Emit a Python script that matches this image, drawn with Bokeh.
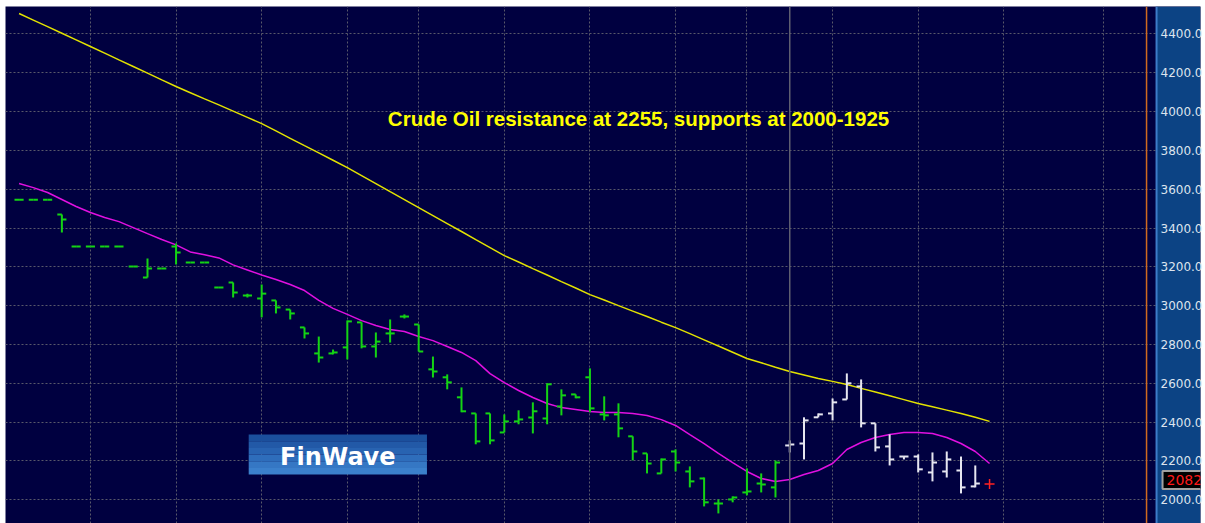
from bokeh.plotting import figure
from bokeh.models import (ColumnDataSource, Range1d, FixedTicker, Span, Label,
                          BoxAnnotation, PrintfTickFormatter)
from bokeh.transform import dodge
from bokeh.embed import file_html
from bokeh.resources import INLINE

# ---------------- data ----------------
bar_open = [3545, 3545, 3545, 3469, 3305, 3305, 3305, 3305, 3202, 3145,
            3192, 3305, 3222, 3222, 3094, 3119, 3052, 3037, 3027, 2980,
            2888, 2754, 2754, 2785, 2914, 2790, 2857, 2944, 2903, 2672,
            2631, 2528, 2445, 2445, 2347, 2404, 2424, 2419, 2481, 2543,
            2631, 2440, 2440, 2327, 2239, 2136, 2249, 2146, 2110, 1981,
            2002, 2038, 2084, 2064, 2280, 2290, 2425, 2445, 2517, 2584,
            2394, 2275, 2223, 2223, 2141, 2146, 2151, 2069]
bar_high = [3545, 3545, 3545, 3469, 3305, 3305, 3305, 3305, 3202, 3243,
            3192, 3320, 3222, 3222, 3094, 3119, 3062, 3109, 3027, 2980,
            2888, 2841, 2774, 2924, 2914, 2862, 2929, 2955, 2903, 2738,
            2646, 2579, 2445, 2445, 2440, 2461, 2502, 2600, 2569, 2543,
            2677, 2533, 2497, 2327, 2239, 2213, 2260, 2172, 2115, 2002,
            2018, 2162, 2136, 2203, 2306, 2425, 2445, 2522, 2651, 2620,
            2394, 2337, 2223, 2234, 2244, 2249, 2223, 2177]
bar_low = [3545, 3545, 3545, 3377, 3305, 3305, 3305, 3305, 3202, 3145,
           3192, 3212, 3222, 3222, 3094, 3042, 3042, 2940, 2960, 2929,
           2831, 2707, 2749, 2723, 2780, 2733, 2810, 2934, 2764, 2630,
           2569, 2451, 2286, 2286, 2347, 2389, 2342, 2389, 2435, 2523,
           2451, 2409, 2322, 2203, 2136, 2136, 2146, 2064, 1966, 1930,
           1987, 2023, 2038, 2012, 2244, 2208, 2425, 2409, 2517, 2373,
           2249, 2177, 2208, 2141, 2095, 2115, 2033, 2064]
bar_close = [3545, 3545, 3545, 3444, 3305, 3305, 3305, 3305, 3202, 3192,
             3192, 3274, 3222, 3222, 3094, 3068, 3052, 3062, 2991, 2960,
             2857, 2733, 2759, 2919, 2790, 2815, 2857, 2944, 2764, 2661,
             2605, 2456, 2301, 2306, 2404, 2414, 2456, 2595, 2538, 2528,
             2471, 2435, 2368, 2249, 2187, 2208, 2192, 2095, 1987, 1981,
             2012, 2043, 2079, 2192, 2285, 2409, 2440, 2502, 2600, 2394,
             2270, 2208, 2223, 2157, 2192, 2208, 2064, 2084]

ma_slow = [4505, 4471, 4437, 4403, 4369, 4335, 4301, 4266, 4232, 4198,
           4163, 4129, 4097, 4065, 4034, 4002, 3970, 3938, 3900, 3862,
           3824, 3787, 3749, 3711, 3670, 3629, 3587, 3546, 3505, 3464,
           3423, 3382, 3340, 3299, 3258, 3225, 3191, 3158, 3124, 3091,
           3057, 3029, 3000, 2972, 2944, 2915, 2887, 2856, 2824, 2792,
           2760, 2728, 2706, 2683, 2661, 2643, 2625, 2610, 2594, 2574,
           2555, 2536, 2516, 2496, 2479, 2462, 2445, 2425, 2404]
ma_fast = [3629, 3608, 3583, 3547, 3511, 3480, 3454, 3433, 3402, 3371,
           3341, 3313, 3277, 3262, 3246, 3210, 3184, 3158, 3135, 3109,
           3078, 3027, 2986, 2955, 2923, 2898, 2877, 2867, 2841, 2820,
           2790, 2759, 2717, 2650, 2604, 2563, 2527, 2496, 2475, 2465,
           2455, 2450, 2450, 2444, 2434, 2413, 2383, 2336, 2290, 2239,
           2192, 2146, 2110, 2094, 2105, 2130, 2151, 2187, 2259, 2295,
           2321, 2336, 2347, 2347, 2342, 2321, 2290, 2249, 2187]

last_price = 2082
last_price_label = "2082"
split_index = 54          # first bar drawn in white
y_ticks = [2000, 2200, 2400, 2600, 2800, 3000, 3200, 3400, 3600, 3800, 4000, 4200, 4400]
x_grid_ticks = [5, 11, 17, 23, 28, 34, 40, 46, 51, 57, 63, 69, 76]
title_text = "Crude Oil resistance at 2255, supports at 2000-1925"
logo_text = "FinWave"

# ---------------- styling ----------------
BG = "#000040"
GRID = "#58586a"
GREEN = "#14d414"
WHITE = "#e6e6f0"
PANEL = "#0c4384"
PANEL_LEFT = 79.70        # x where the price-scale panel begins
MARKER_X = 79.0           # orange marker line

p = figure(width=1205, height=523,
           x_range=Range1d(-0.95, 82.78), y_range=Range1d(1878, 4541),
           x_axis_location=None, y_axis_location="right",
           output_backend="svg", toolbar_location=None,
           min_border_left=5, min_border_top=6, min_border_bottom=0, min_border_right=0,
           background_fill_color=BG, border_fill_color="white",
           outline_line_color=None)

# price-scale panel (drawn inside the frame, under the axis labels)
p.add_layout(BoxAnnotation(left=PANEL_LEFT, fill_color=PANEL, fill_alpha=1,
                           line_color=None, level="underlay"))
p.add_layout(Span(location=PANEL_LEFT, dimension="height", line_color="#3d7cc9",
                  line_width=2, level="underlay"))

ax = p.yaxis[0]
ax.ticker = FixedTicker(ticks=y_ticks)
ax.formatter = PrintfTickFormatter(format="%.1f")
ax.major_tick_out = 0
ax.major_tick_in = 0
ax.minor_tick_out = 0
ax.minor_tick_in = 0
ax.major_label_standoff = -40
ax.axis_line_color = None
ax.major_label_text_color = "#dde4ee"
ax.major_label_text_font = "DejaVu Sans"
ax.major_label_text_font_size = "12px"

p.ygrid.grid_line_color = GRID
p.ygrid.grid_line_dash = "2 2"
p.xgrid.ticker = FixedTicker(ticks=x_grid_ticks)
p.xgrid.grid_line_color = GRID
p.xgrid.grid_line_dash = "2 2"

# separator lines
p.add_layout(Span(location=split_index, dimension="height", line_color="#5e5e70", line_width=1.5))
p.add_layout(Span(location=MARKER_X, dimension="height", line_color="#d06a20", line_width=1.5))

# logo (decoration) with simple vertical gradient
logo_l, logo_r, logo_b, logo_t = 16.09, 28.58, 2130, 2336
bands = ["#1b4f9c", "#2259a7", "#2863b1", "#2e6dbb", "#3577c4", "#3b80cc"]
h = (logo_t - logo_b) / len(bands)
for k, col in enumerate(bands):
    p.add_layout(BoxAnnotation(left=logo_l, right=logo_r,
                               top=logo_t - k * h, bottom=logo_t - (k + 1) * h,
                               fill_color=col, fill_alpha=1, line_color=None, level="underlay"))
p.add_layout(Label(x=(logo_l + logo_r) / 2, y=(logo_b + logo_t) / 2 - 10, text=logo_text,
                   text_color="white", text_font="DejaVu Sans", text_font_style="bold",
                   text_font_size="24px", text_align="center", text_baseline="middle"))

# moving averages
idx_ma = list(range(len(ma_slow)))
p.line(idx_ma, ma_slow, line_color="#e2e200", line_width=1.5)
p.line(idx_ma, ma_fast, line_color="#e010e0", line_width=1.5)

# OHLC bars
n = len(bar_open)
idx = list(range(n))
colors = [GREEN if i < split_index else WHITE for i in idx]
src = ColumnDataSource(dict(x=idx, o=bar_open, h=bar_high, l=bar_low, c=bar_close, color=colors))
tick = 0.32
p.segment(x0="x", y0="l", x1="x", y1="h", source=src, line_color="color", line_width=2)
p.segment(x0=dodge("x", -tick), y0="o", x1="x", y1="o", source=src, line_color="color", line_width=2)
p.segment(x0="x", y0="c", x1=dodge("x", tick), y1="c", source=src, line_color="color", line_width=2)

# current price marker
p.scatter([n], [last_price], marker="cross", size=10, line_color="#ff2020", line_width=1.5)

# title text
p.add_layout(Label(x=25.84, y=3964, text=title_text, text_color="#ffff00",
                   text_font="Liberation Sans", text_font_style="bold", text_font_size="20.5px",
                   text_baseline="alphabetic"))

# price box on the price scale
p.add_layout(Label(x=80.12, y=last_price, y_offset=4, text=last_price_label,
                   text_color="#ff1a1a", text_font="DejaVu Sans", text_font_size="14px",
                   text_baseline="middle",
                   background_fill_color="black", border_line_color="#a0a0a0",
                   border_line_width=2, padding=4))

open("out.html", "w").write(file_html(p, INLINE))
